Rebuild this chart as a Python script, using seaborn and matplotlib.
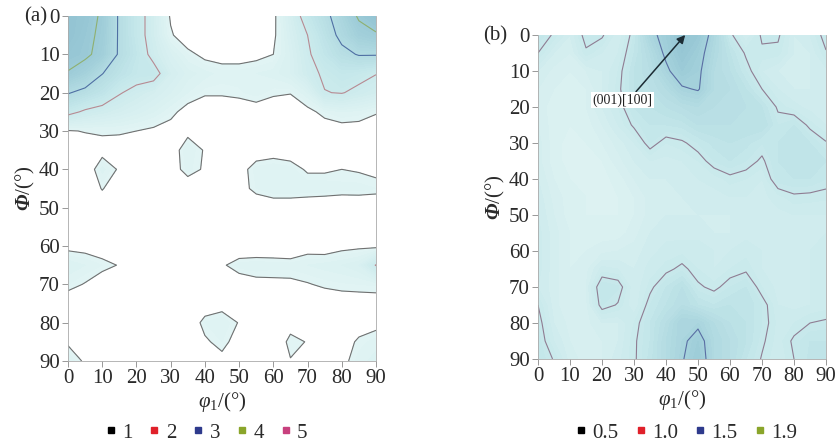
import matplotlib
matplotlib.use('Agg')
import matplotlib.pyplot as plt
from matplotlib.colors import LinearSegmentedColormap
from matplotlib.lines import Line2D
import seaborn as sns
import numpy as np

# grid of the ODF sections (degrees)
phi1 = [0, 5, 10, 15, 20, 25, 30, 35, 40, 45, 50, 55, 60, 65, 70, 75, 80, 85, 90]
Phi = [0, 5, 10, 15, 20, 25, 30, 35, 40, 45, 50, 55, 60, 65, 70, 75, 80, 85, 90]

# panel (a): f(g) values, one row per Phi, columns follow phi1
odf_a = [
    [4.5, 4.3, 3.9, 2.9, 2.3, 1.7, 0.95, 0.7, 0.6, 0.55, 0.6, 0.7, 0.9, 1.6, 2.3, 2.8, 3.4, 4.1, 4.5],
    [4.5, 4.2, 3.85, 2.9, 2.3, 1.7, 1.05, 0.75, 0.65, 0.6, 0.65, 0.75, 0.92, 1.5, 2.0, 2.6, 3.2, 3.7, 3.9],
    [4.3, 4.15, 3.75, 2.9, 2.4, 1.8, 1.4, 1.1, 0.9, 0.85, 0.85, 0.9, 1.0, 1.4, 1.9, 2.4, 2.8, 3.05, 3.05],
    [3.95, 3.6, 3.02, 2.6, 2.3, 2.25, 1.6, 1.35, 1.25, 1.15, 1.15, 1.2, 1.25, 1.4, 1.8, 2.1, 2.3, 2.2, 2.02],
    [3.05, 2.8, 2.5, 2.05, 1.8, 1.6, 1.4, 1.2, 1.05, 1.05, 1.08, 1.15, 1.05, 1.02, 1.3, 1.98, 2.03, 1.85, 1.7],
    [2.2, 1.9, 1.75, 1.6, 1.45, 1.3, 1.1, 0.85, 0.75, 0.75, 0.8, 0.85, 0.8, 0.75, 0.9, 1.1, 1.2, 1.15, 1.03],
    [0.97, 1.02, 1.05, 1.05, 1.0, 0.93, 0.85, 0.9, 0.85, 0.75, 0.7, 0.75, 0.75, 0.75, 0.75, 0.8, 0.85, 0.85, 0.8],
    [0.8, 0.8, 0.85, 0.8, 0.75, 0.75, 0.8, 1.2, 0.97, 0.8, 0.75, 0.8, 0.85, 0.8, 0.75, 0.75, 0.8, 0.8, 0.75],
    [0.75, 0.7, 1.25, 0.95, 0.75, 0.7, 0.8, 1.15, 0.95, 0.75, 0.85, 1.15, 1.2, 1.15, 0.95, 0.95, 1.0, 0.97, 0.92],
    [0.7, 0.75, 1.02, 0.8, 0.7, 0.65, 0.7, 0.75, 0.75, 0.75, 0.85, 1.1, 1.2, 1.2, 1.2, 1.2, 1.15, 1.15, 1.1],
    [0.65, 0.65, 0.8, 0.7, 0.6, 0.55, 0.55, 0.6, 0.6, 0.65, 0.7, 0.75, 0.8, 0.8, 0.75, 0.7, 0.7, 0.72, 0.75],
    [0.75, 0.7, 0.6, 0.55, 0.5, 0.5, 0.5, 0.5, 0.55, 0.6, 0.65, 0.7, 0.7, 0.7, 0.72, 0.72, 0.75, 0.8, 0.85],
    [0.9, 0.88, 0.8, 0.7, 0.6, 0.55, 0.55, 0.55, 0.6, 0.65, 0.72, 0.7, 0.75, 0.7, 0.85, 0.8, 0.9, 0.93, 0.9],
    [1.3, 1.2, 1.1, 0.98, 0.75, 0.65, 0.6, 0.6, 0.7, 0.95, 1.15, 1.2, 1.15, 1.15, 1.2, 1.25, 1.3, 1.4, 2.03],
    [1.1, 0.98, 0.8, 0.7, 0.6, 0.55, 0.55, 0.6, 0.65, 0.75, 0.8, 0.88, 0.92, 0.93, 0.98, 1.05, 1.08, 1.1, 1.12],
    [0.8, 0.75, 0.7, 0.65, 0.6, 0.55, 0.6, 0.7, 0.8, 0.85, 0.8, 0.75, 0.75, 0.75, 0.75, 0.8, 0.85, 0.85, 0.85],
    [0.8, 0.75, 0.7, 0.65, 0.6, 0.6, 0.65, 0.75, 1.1, 1.2, 0.98, 0.8, 0.75, 0.85, 0.8, 0.8, 0.8, 0.85, 0.9],
    [0.95, 0.8, 0.7, 0.65, 0.6, 0.6, 0.65, 0.75, 0.95, 1.1, 0.85, 0.75, 0.7, 1.1, 0.98, 0.85, 0.85, 1.05, 1.15],
    [1.2, 0.95, 0.75, 0.7, 0.65, 0.65, 0.7, 0.75, 0.85, 0.9, 0.85, 0.75, 0.75, 0.98, 0.9, 0.85, 0.9, 1.15, 1.25],
]

# panel (b)
odf_b = [
    [1.1, 0.98, 0.85, 1.05, 1.02, 0.85, 1.05, 1.42, 1.6, 1.8, 1.7, 1.4, 1.03, 0.85, 1.02, 1.02, 0.85, 0.9, 1.05],
    [1.0, 0.85, 0.8, 0.98, 0.9, 0.9, 1.1, 1.3, 1.55, 1.75, 1.6, 1.35, 1.15, 0.98, 0.98, 0.97, 0.85, 0.85, 0.99],
    [0.85, 0.78, 0.75, 0.8, 0.85, 0.95, 1.15, 1.25, 1.45, 1.65, 1.55, 1.3, 1.2, 1.05, 0.9, 0.85, 0.85, 0.85, 0.88],
    [0.8, 0.75, 0.72, 0.75, 0.85, 0.97, 1.15, 1.2, 1.3, 1.47, 1.52, 1.3, 1.25, 1.15, 1.0, 0.9, 0.85, 0.85, 0.88],
    [0.78, 0.72, 0.7, 0.75, 0.85, 0.95, 1.1, 1.15, 1.2, 1.25, 1.3, 1.25, 1.25, 1.2, 1.15, 0.98, 0.92, 0.88, 0.85],
    [0.8, 0.72, 0.7, 0.72, 0.8, 0.9, 1.02, 1.1, 1.1, 1.12, 1.2, 1.2, 1.2, 1.2, 1.2, 1.05, 1.1, 0.97, 0.9],
    [0.82, 0.72, 0.68, 0.7, 0.75, 0.82, 0.9, 1.05, 0.95, 0.98, 1.05, 1.12, 1.15, 1.12, 1.05, 1.1, 1.15, 1.1, 1.01],
    [0.82, 0.72, 0.68, 0.68, 0.7, 0.78, 0.85, 0.9, 0.88, 0.9, 0.95, 1.05, 1.1, 1.05, 0.98, 1.1, 1.12, 1.12, 1.1],
    [0.85, 0.75, 0.7, 0.68, 0.68, 0.72, 0.8, 0.85, 0.85, 0.88, 0.9, 0.92, 0.97, 0.95, 0.9, 1.08, 1.1, 1.1, 1.05],
    [0.88, 0.78, 0.72, 0.7, 0.68, 0.7, 0.75, 0.82, 0.85, 0.85, 0.87, 0.88, 0.9, 0.9, 0.88, 0.93, 0.98, 0.97, 0.96],
    [0.9, 0.8, 0.72, 0.7, 0.7, 0.7, 0.75, 0.82, 0.85, 0.85, 0.85, 0.85, 0.85, 0.88, 0.88, 0.88, 0.9, 0.9, 0.9],
    [0.92, 0.82, 0.75, 0.72, 0.72, 0.72, 0.78, 0.85, 0.88, 0.88, 0.88, 0.85, 0.85, 0.88, 0.88, 0.88, 0.88, 0.9, 0.9],
    [0.92, 0.82, 0.75, 0.75, 0.78, 0.8, 0.82, 0.88, 0.92, 0.93, 0.93, 0.9, 0.9, 0.93, 0.9, 0.88, 0.88, 0.9, 0.92],
    [0.92, 0.82, 0.75, 0.78, 0.92, 0.9, 0.85, 0.92, 0.97, 1.03, 0.95, 0.9, 0.95, 0.98, 0.9, 0.88, 0.88, 0.9, 0.92],
    [0.9, 0.82, 0.75, 0.8, 1.1, 1.06, 0.85, 0.97, 1.1, 1.2, 1.02, 0.97, 1.05, 1.1, 0.95, 0.88, 0.88, 0.9, 0.92],
    [1.0, 0.82, 0.75, 0.78, 1.05, 0.99, 0.85, 1.05, 1.15, 1.25, 1.15, 1.1, 1.15, 1.15, 1.05, 0.9, 0.88, 0.9, 0.92],
    [1.05, 0.85, 0.78, 0.78, 0.85, 0.85, 0.95, 1.1, 1.25, 1.45, 1.45, 1.3, 1.2, 1.15, 1.05, 0.93, 0.95, 1.0, 1.02],
    [1.08, 0.9, 0.8, 0.78, 0.8, 0.85, 0.98, 1.1, 1.3, 1.45, 1.6, 1.35, 1.25, 1.15, 1.02, 0.92, 1.02, 1.1, 1.1],
    [1.1, 0.99, 0.82, 0.78, 0.8, 0.88, 0.98, 1.12, 1.3, 1.48, 1.65, 1.35, 1.25, 1.1, 0.99, 0.9, 1.0, 1.12, 1.12],
]

levels_a = [1, 2, 3, 4, 5]
levels_b = [0.5, 1.0, 1.5, 1.9]
legend_colors = ['#000000', '#e0202a', '#2e3a8c', '#8aa52a', '#c8407e']
line_colors_a = ['#707070', '#b78a92', '#4f6fa3', '#8fb070', '#c07090']
line_colors_b = ['#707070', '#8f7d92', '#5a6ea3', '#8fb070']

sns.set_theme(style="ticks")
plt.rcParams['font.family'] = ['Liberation Serif', 'DejaVu Serif']
plt.rcParams['mathtext.fontset'] = 'custom'
plt.rcParams['mathtext.rm'] = 'Liberation Serif'
plt.rcParams['mathtext.it'] = 'Liberation Serif:italic'
plt.rcParams['mathtext.bf'] = 'Liberation Serif:bold'
# sf slot used for the bold italic capital Phi
plt.rcParams['mathtext.sf'] = 'Liberation Serif:italic:bold'

cmap = LinearSegmentedColormap.from_list('odf', ['#e2f4f4', '#c4e7ea', '#a4d1db', '#88bbcd'])

fig = plt.figure(figsize=(8.36, 4.45), dpi=100)
ax_a = fig.add_axes([68 / 836, 1 - 361 / 445, 308 / 836, 345 / 445])
ax_b = fig.add_axes([538 / 836, 1 - 359 / 445, 288 / 836, 324 / 445])

X, Y = np.meshgrid(phi1, Phi)
FS = 15


def draw_section(ax, Z, fill_levels, vmin, vmax, line_levels, line_colors):
    ax.contourf(X, Y, Z, levels=fill_levels, cmap=cmap, vmin=vmin, vmax=vmax, extend='max')
    ax.contour(X, Y, Z, levels=line_levels, colors=line_colors, linewidths=0.8)
    ax.set_xlim(0, 90)
    ax.set_ylim(90, 0)
    ax.set_xticks(range(0, 91, 10))
    ax.set_yticks(range(0, 91, 10))
    ax.tick_params(direction='out', length=4, width=0.6, color='#888888', labelsize=FS,
                   labelcolor='#2a2a2a', pad=2)
    ax.spines['top'].set_visible(False)
    for s in ['left', 'bottom', 'right']:
        ax.spines[s].set_color('#aaaaaa')
        ax.spines[s].set_linewidth(0.6)
    ax.set_xlabel(r'$\varphi_1$/(°)', fontsize=FS, color='#2a2a2a', labelpad=1)
    ax.set_ylabel(r'$\mathsf{Φ}$/(°)', fontsize=FS, color='#2a2a2a', labelpad=1)


Za = np.array(odf_a)
Zb = np.array(odf_b)
draw_section(ax_a, Za, np.linspace(1, 5, 41), 1, 5, levels_a, line_colors_a)
draw_section(ax_b, Zb, np.linspace(0.5, 2.0, 31), 0.6, 2.0, levels_b, line_colors_b)

ax_b.annotate('(001)[100]', xy=(46, 0), xytext=(26.5, 18), fontsize=10, ha='center', va='center',
              color='#222222', annotation_clip=False,
              bbox=dict(boxstyle='square,pad=0.1', fc='white', ec='none'),
              arrowprops=dict(arrowstyle='-|>', color='#1c2c34', lw=1.1, mutation_scale=12,
                              relpos=(0.7, 1.0), shrinkA=0, shrinkB=0))

fig.text(24 / 836, 1 - 17 / 445, '(a)', fontsize=FS, color='#2a2a2a', va='center')
fig.text(483 / 836, 1 - 36 / 445, '(b)', fontsize=FS, color='#2a2a2a', va='center')


def legend_handles(colors):
    return [Line2D([], [], marker='s', linestyle='', color=c, markersize=4.5) for c in colors]


fig.legend(legend_handles(legend_colors), [str(v) for v in levels_a], loc='center',
           bbox_to_anchor=(206 / 836, 1 - 433 / 445), ncol=5, frameon=False, fontsize=FS,
           handlelength=0.6, handletextpad=0.25, columnspacing=0.75, labelcolor='#2a2a2a')
fig.legend(legend_handles(legend_colors[:4]), ['0.5', '1.0', '1.5', '1.9'], loc='center',
           bbox_to_anchor=(686 / 836, 1 - 433 / 445), ncol=4, frameon=False, fontsize=FS,
           handlelength=0.6, handletextpad=0.25, columnspacing=0.75, labelcolor='#2a2a2a')

fig.savefig('out.png', dpi=100)
plt.close(fig)
